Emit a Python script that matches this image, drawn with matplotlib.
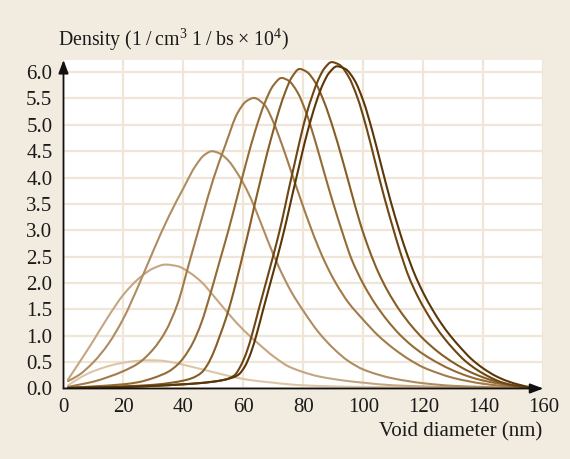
import matplotlib
matplotlib.use("Agg")
import numpy as np
import matplotlib.pyplot as plt
from matplotlib.patches import ArrowStyle, PathPatch
from matplotlib.path import Path

plt.rcParams['font.family'] = ['Liberation Serif', 'DejaVu Serif']
plt.rcParams['mathtext.fontset'] = 'custom'
plt.rcParams['mathtext.rm'] = 'Liberation Serif'
plt.rcParams['mathtext.it'] = 'Liberation Serif:italic'

# ---- data ----
c1_x = [1.5, 4, 8, 12, 16, 20, 24, 28, 32, 36, 40, 45, 50, 55, 60, 65, 70, 75, 80, 90, 100, 115, 130, 145, 158]
c1_y = [0.06, 0.15, 0.28, 0.37, 0.44, 0.49, 0.52, 0.535, 0.53, 0.50, 0.45, 0.38, 0.31, 0.24, 0.18, 0.14, 0.11, 0.08, 0.06, 0.04, 0.03, 0.02, 0.01, 0.005, 0.0]

c2_x = [1.5, 5, 10, 15, 20, 25, 30, 34, 38, 42, 46, 50, 55, 60, 65, 70, 75, 80, 85, 90, 95, 100, 110, 120, 135, 150, 158]
c2_y = [0.17, 0.47, 0.91, 1.37, 1.78, 2.08, 2.28, 2.35, 2.32, 2.20, 2.02, 1.76, 1.42, 1.11, 0.85, 0.61, 0.42, 0.31, 0.23, 0.18, 0.14, 0.11, 0.06, 0.04, 0.02, 0.01, 0.0]

c3_x = [1.5, 5, 10, 15, 20, 25, 30, 35, 40, 44, 47, 49.5, 52, 55, 58, 61, 64, 68, 72, 76, 80, 85, 90, 95, 100, 110, 120, 130, 140, 150, 158]
c3_y = [0.14, 0.25, 0.50, 0.85, 1.33, 1.95, 2.62, 3.25, 3.80, 4.22, 4.43, 4.50, 4.46, 4.32, 4.08, 3.78, 3.40, 2.82, 2.28, 1.83, 1.47, 1.07, 0.76, 0.52, 0.36, 0.19, 0.10, 0.05, 0.03, 0.01, 0.0]

c4_x = [1.5, 5, 10, 15, 20, 25, 30, 34, 38, 42, 46, 50, 54, 58, 61, 63.5, 67, 70, 73, 76, 79, 82, 85, 88, 91, 95, 100, 105, 110, 115, 120, 125, 130, 140, 150, 158]
c4_y = [0.03, 0.07, 0.13, 0.22, 0.33, 0.48, 0.75, 1.08, 1.60, 2.40, 3.20, 3.98, 4.62, 5.22, 5.45, 5.51, 5.38, 5.05, 4.60, 4.10, 3.60, 3.12, 2.68, 2.30, 1.98, 1.63, 1.30, 1.00, 0.76, 0.56, 0.40, 0.29, 0.20, 0.09, 0.03, 0.0]

c5_x = [1.5, 10, 20, 25, 30, 35, 38, 40, 43, 46, 49, 52, 55, 58, 61, 64, 67, 70, 72.7, 75, 78, 81, 84, 87, 90, 93, 96, 100, 104, 108, 112, 116, 120, 125, 130, 135, 140, 150, 158]
c5_y = [0.01, 0.04, 0.08, 0.12, 0.20, 0.32, 0.45, 0.58, 0.85, 1.25, 1.80, 2.40, 3.00, 3.65, 4.30, 4.90, 5.40, 5.75, 5.89, 5.84, 5.62, 5.22, 4.68, 4.08, 3.50, 2.96, 2.46, 1.98, 1.60, 1.29, 1.03, 0.82, 0.65, 0.48, 0.34, 0.23, 0.15, 0.05, 0.0]

c6_x = [1.5, 10, 20, 30, 36, 40, 43, 46, 48, 50, 52, 54, 56, 58, 60, 62, 64, 66, 68, 70, 72, 74, 76, 78.7, 81, 84, 87, 90, 93, 96, 99, 102, 105, 108, 112, 116, 120, 125, 130, 135, 140, 145, 150, 158]
c6_y = [0.01, 0.02, 0.04, 0.07, 0.11, 0.15, 0.20, 0.30, 0.45, 0.68, 0.98, 1.30, 1.68, 2.12, 2.58, 3.05, 3.55, 4.02, 4.48, 4.90, 5.30, 5.63, 5.89, 6.06, 6.01, 5.80, 5.42, 4.92, 4.34, 3.72, 3.12, 2.62, 2.20, 1.86, 1.49, 1.19, 0.94, 0.69, 0.49, 0.33, 0.21, 0.12, 0.06, 0.0]

c7_x = [1.5, 10, 20, 30, 40, 45, 50, 54, 57, 59, 61, 63, 65, 67, 69, 71, 73, 75, 77, 79, 81, 83, 85, 87, 89.4, 92, 95, 98, 101, 104, 107, 110, 112, 115, 118, 121, 124, 127, 130, 134, 138, 142, 146, 150, 155, 158]
c7_y = [0.01, 0.02, 0.03, 0.05, 0.08, 0.10, 0.13, 0.17, 0.25, 0.42, 0.68, 1.05, 1.48, 1.90, 2.32, 2.75, 3.22, 3.75, 4.25, 4.75, 5.20, 5.56, 5.86, 6.07, 6.19, 6.14, 5.92, 5.52, 4.95, 4.28, 3.62, 3.02, 2.64, 2.14, 1.76, 1.45, 1.18, 0.95, 0.75, 0.52, 0.35, 0.22, 0.12, 0.06, 0.02, 0.0]

c8_x = [1.5, 10, 20, 30, 40, 45, 50, 54, 57, 58.5, 60.5, 62.5, 64.5, 66.5, 68.5, 70.5, 72.5, 74.5, 76.5, 78.5, 80.5, 82.5, 84.5, 86.5, 88.5, 91.2, 94, 97, 100, 103, 106, 109, 112, 114, 117, 120, 123, 126, 129, 132, 136, 140, 144, 148, 152, 156, 158]
c8_y = [0.01, 0.02, 0.03, 0.05, 0.08, 0.10, 0.13, 0.17, 0.22, 0.27, 0.42, 0.68, 1.05, 1.48, 1.90, 2.32, 2.75, 3.22, 3.72, 4.20, 4.68, 5.10, 5.47, 5.77, 5.98, 6.11, 6.06, 5.85, 5.45, 4.88, 4.22, 3.57, 2.99, 2.64, 2.18, 1.81, 1.50, 1.23, 1.00, 0.80, 0.56, 0.38, 0.24, 0.14, 0.07, 0.02, 0.0]

x_ticks = [0, 20, 40, 60, 80, 100, 120, 140, 160]
y_ticks = [0.0, 0.5, 1.0, 1.5, 2.0, 2.5, 3.0, 3.5, 4.0, 4.5, 5.0, 5.5, 6.0]
y_tick_labels = ['0.0', '0.5', '1.0', '1.5', '2.0', '2.5', '3.0', '3.5', '4.0', '4.5', '5.0', '5.5', '6.0']

series = [
    (c1_x, c1_y, '#dcc6a8'),
    (c2_x, c2_y, '#c4a682'),
    (c3_x, c3_y, '#b08c62'),
    (c4_x, c4_y, '#a27b4a'),
    (c5_x, c5_y, '#946b36'),
    (c6_x, c6_y, '#865d26'),
    (c7_x, c7_y, '#6e4614'),
    (c8_x, c8_y, '#5b3608'),
]

BG = '#f2ebe0'
GRID = '#f0e6d8'


def smooth_path(xs, ys):
    """Smooth (monotone cubic) Bezier path through the given points."""
    x = np.asarray(xs, float)
    y = np.asarray(ys, float)
    n = len(x)
    h = np.diff(x)
    d = np.diff(y) / h
    m = np.zeros(n)
    m[0] = d[0]
    m[-1] = d[-1]
    for k in range(1, n - 1):
        if d[k - 1] * d[k] <= 0:
            m[k] = 0.0
        else:
            w1 = 2 * h[k] + h[k - 1]
            w2 = h[k] + 2 * h[k - 1]
            m[k] = (w1 + w2) / (w1 / d[k - 1] + w2 / d[k])
    verts = [(x[0], y[0])]
    codes = [Path.MOVETO]
    for i in range(n - 1):
        hh = h[i]
        verts += [(x[i] + hh / 3, y[i] + m[i] * hh / 3),
                  (x[i + 1] - hh / 3, y[i + 1] - m[i + 1] * hh / 3),
                  (x[i + 1], y[i + 1])]
        codes += [Path.CURVE4] * 3
    return Path(verts, codes)


fig = plt.figure(figsize=(5.7, 4.59), dpi=100, facecolor=BG)
ax = fig.add_axes([0.1114, 0.1536, 0.8418, 0.7157])
ax.set_facecolor('white')
ax.set_xlim(0, 160)
ax.set_ylim(0, 6.23)

for s in ax.spines.values():
    s.set_visible(False)

ax.set_xticks(x_ticks)
ax.set_xticklabels([str(t) for t in x_ticks])
ax.set_yticks(y_ticks)
ax.set_yticklabels(y_tick_labels)
ax.tick_params(axis='both', length=0, labelsize=15, colors='#1a1a1a')
ax.tick_params(axis='x', pad=7)
ax.tick_params(axis='y', pad=8)
ax.grid(True, color=GRID, lw=1.6, zorder=0)
ax.set_axisbelow(True)

for xs, ys, col in series:
    patch = PathPatch(smooth_path(xs, ys), facecolor='none', edgecolor=col,
                      lw=1.5, zorder=3, capstyle='round', joinstyle='round')
    ax.add_patch(patch)

style = ArrowStyle('-|>', head_length=0.8, head_width=0.3)
ax.annotate('', xy=(0, 1.0), xycoords='axes fraction', xytext=(0, 0),
            textcoords='axes fraction',
            arrowprops=dict(arrowstyle=style, color='#111111', lw=1.3,
                            mutation_scale=10, shrinkA=0, shrinkB=0), zorder=5)
ax.annotate('', xy=(1.0, 0), xycoords='axes fraction', xytext=(0, 0),
            textcoords='axes fraction',
            arrowprops=dict(arrowstyle=style, color='#111111', lw=1.3,
                            mutation_scale=10, shrinkA=0, shrinkB=0), zorder=5)

fig.text(58 / 570, 1 - 45.7 / 459,
         'Density (1\u2009/\u2009cm$^3$ 1\u2009/\u2009bs \u00d7 10$^4$)',
         ha='left', va='baseline', fontsize=14.3, color='#1a1a1a')
fig.text(542 / 570, 1 - 436.7 / 459, 'Void diameter (nm)',
         ha='right', va='baseline', fontsize=15, color='#1a1a1a')

fig.savefig('out.png', dpi=100, facecolor=BG)
